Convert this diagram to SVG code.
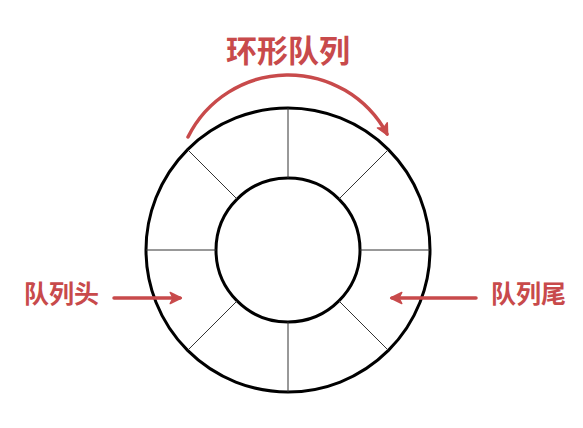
<svg xmlns="http://www.w3.org/2000/svg" width="583" height="428" viewBox="0 0 583 428">
<style>
.ring{fill:none;stroke:#000;stroke-width:3}
.div{stroke:#333;stroke-width:1}
.red{fill:none;stroke:#c84a4b;stroke-width:3.5;stroke-linecap:round}
.lbl{font-family:"Noto Sans CJK SC","Noto Sans",sans-serif;font-weight:bold;fill:#c84a4b}
</style>
<defs>
<marker id="ah" viewBox="0 0 10 10" refX="8" refY="5" markerWidth="4" markerHeight="4" orient="auto" markerUnits="strokeWidth">
<path d="M1,1 L9,5 L1,9 L3,5 Z" fill="#c84a4b" stroke="#c84a4b" stroke-width="1" stroke-linejoin="round"/>
</marker>
</defs>
<rect width="583" height="428" fill="#fff"/>
<g id="ring">
<circle class="ring" cx="288" cy="250" r="142"/>
<circle class="ring" cx="288" cy="250" r="72"/>
<g class="div">
<line x1="288" y1="108" x2="288" y2="178"/>
<line x1="288" y1="322" x2="288" y2="392"/>
<line x1="146" y1="250" x2="216" y2="250"/>
<line x1="360" y1="250" x2="430" y2="250"/>
<line x1="187.6" y1="149.6" x2="237.1" y2="199.1"/>
<line x1="388.4" y1="149.6" x2="338.9" y2="199.1"/>
<line x1="187.6" y1="350.4" x2="237.1" y2="300.9"/>
<line x1="388.4" y1="350.4" x2="338.9" y2="300.9"/>
</g>
</g>
<g id="title">
<text class="lbl" x="288" y="62" font-size="31" text-anchor="middle">环形队列</text>
</g>
<g id="head">
<text class="lbl" x="24" y="303" font-size="25">队列头</text>
</g>
<g id="tail">
<text class="lbl" x="491" y="303" font-size="25">队列尾</text>
</g>
<g id="connectors">
<path class="red" d="M188,137 A112,112 0 0 1 387,134" marker-end="url(#ah)"/>
<line class="red" x1="114" y1="298" x2="180" y2="298" marker-end="url(#ah)"/>
<line class="red" x1="476" y1="298" x2="392" y2="298" marker-end="url(#ah)"/>
</g>
</svg>
